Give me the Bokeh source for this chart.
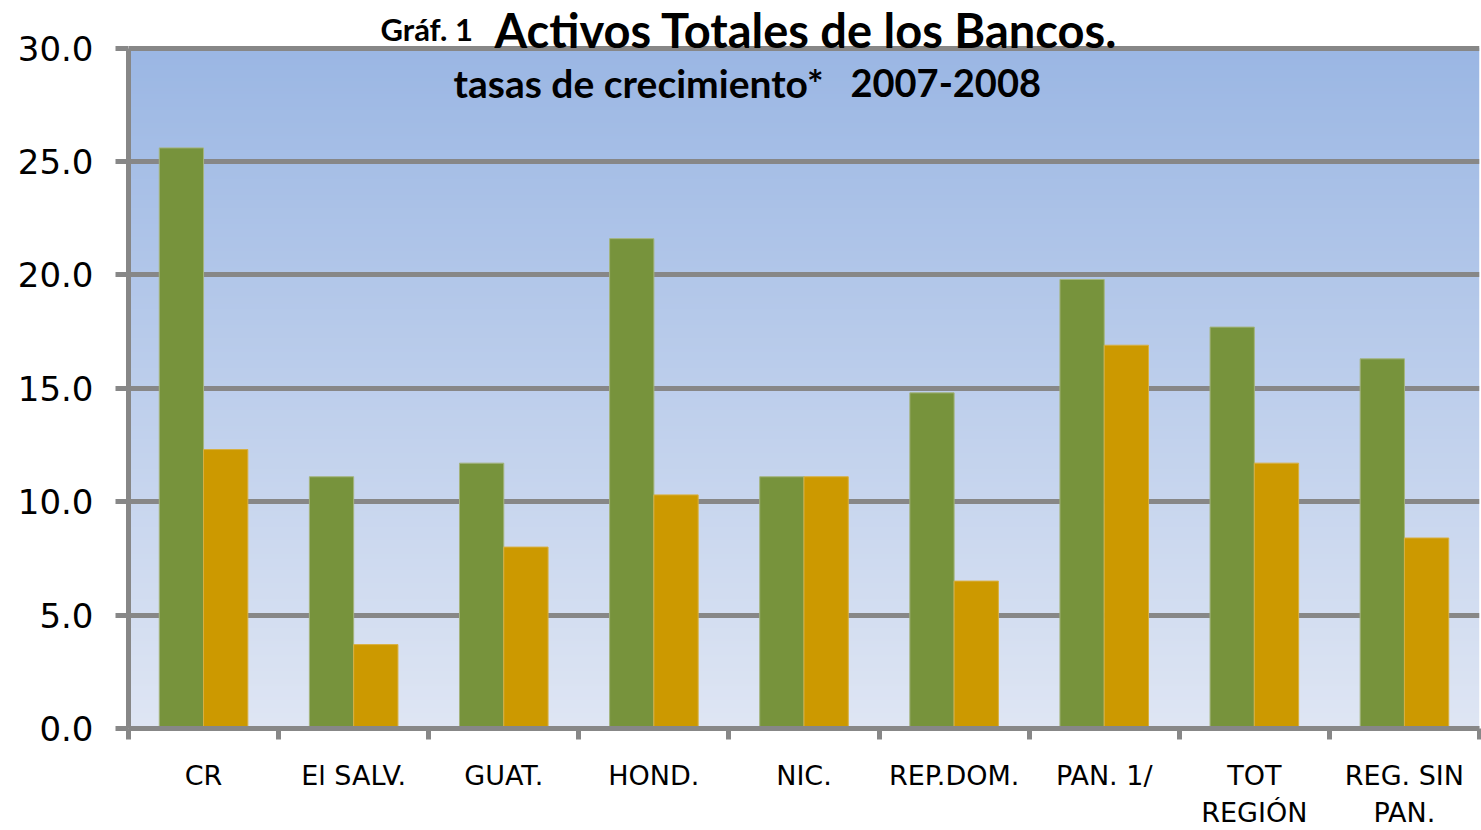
import numpy as np
from bokeh.plotting import figure
from bokeh.models import (Range1d, LinearAxis, FixedTicker,
                          PrintfTickFormatter, Label, ColumnDataSource)
from bokeh.transform import dodge
from bokeh.embed import file_html
from bokeh.resources import INLINE

# ---- data ----
categories = ["CR", "El SALV.", "GUAT.", "HOND.", "NIC.", "REP.DOM.", "PAN. 1/", "TOT\nREGIÓN", "REG. SIN\nPAN."]
growth_2007 = [25.6, 11.1, 11.7, 21.6, 11.1, 14.8, 19.8, 17.7, 16.3]
growth_2008 = [12.3, 3.7, 8.0, 10.3, 11.1, 6.5, 16.9, 11.7, 8.4]
y_ticks = [0, 5, 10, 15, 20, 25, 30]

GRAY = "#878787"
GREEN = "#77933C"
GOLD = "#CC9900"

ncat = len(categories)
centers = [i + 0.5 for i in range(ncat)]
src = ColumnDataSource(dict(pos=centers, g7=growth_2007, g8=growth_2008))

# y range extends above 30 so that the title area (white) lies inside the frame
p = figure(width=1481, height=830, output_backend="svg", toolbar_location=None,
           x_range=Range1d(0, ncat), y_range=Range1d(0, 32.1), x_axis_location=None,
           min_border_left=128, min_border_right=2, min_border_top=0, min_border_bottom=100)
p.outline_line_color = None
p.background_fill_color = "white"
p.border_fill_color = "white"

# gradient background of plot area
n = 256
top = np.array([0x9B, 0xB7, 0xE4], dtype=float)
bot = np.array([0xDF, 0xE6, 0xF4], dtype=float)
t = np.linspace(0, 1, n)[:, None]
rgb = bot * (1 - t) + top * t
img = np.zeros((n, 1), dtype=np.uint32)
view = img.view(dtype=np.uint8).reshape((n, 1, 4))
view[:, 0, 0:3] = rgb.astype(np.uint8)
view[:, 0, 3] = 255
p.image_rgba(image=[img], x=0, y=0, dw=ncat, dh=30, level="image")

# bars
bw = 0.295
p.vbar(x=dodge("pos", -bw / 2), top="g7", width=bw, source=src,
       fill_color=GREEN, line_color="#A4B47E", line_width=1)
p.vbar(x=dodge("pos", bw / 2), top="g8", width=bw, source=src,
       fill_color=GOLD, line_color="#D8B040", line_width=1)

# y axis
ya = p.yaxis[0]
ya.ticker = FixedTicker(ticks=y_ticks)
ya.bounds = (0, 30)
ya.formatter = PrintfTickFormatter(format="%.1f")
ya.axis_line_color = GRAY
ya.axis_line_width = 5
ya.major_tick_line_color = GRAY
ya.major_tick_line_width = 5
ya.major_tick_out = 13
ya.major_tick_in = 0
ya.minor_tick_line_color = None
ya.major_label_text_font = "DejaVu Sans"
ya.major_label_text_font_size = "34px"
ya.major_label_text_color = "black"
ya.major_label_standoff = 22

p.ygrid.grid_line_color = GRAY
p.ygrid.grid_line_width = 5
p.xgrid.grid_line_color = None

# x axis: boundary ticks
xa = LinearAxis(ticker=FixedTicker(ticks=list(range(ncat + 1))))
xa.axis_line_color = GRAY
xa.axis_line_width = 5
xa.major_tick_line_color = GRAY
xa.major_tick_line_width = 5
xa.major_tick_out = 11
xa.major_tick_in = 0
xa.minor_tick_line_color = None
xa.major_label_text_font_size = "1px"
xa.major_label_text_alpha = 0
xa.major_label_standoff = 0
p.add_layout(xa, "below")

# x axis: category labels
xb = LinearAxis(ticker=FixedTicker(ticks=centers))
xb.axis_line_color = None
xb.major_tick_line_color = None
xb.minor_tick_line_color = None
xb.major_label_text_font = "DejaVu Sans"
xb.major_label_text_font_size = "27px"
xb.major_label_text_color = "black"
xb.major_label_standoff = 14
xb.major_label_overrides = {c: lab for c, lab in zip(centers, categories)}
p.add_layout(xb, "below")

# titles
def title_label(x, y, text, size):
    return Label(x=x, y=y, x_units="screen", y_units="screen", text=text,
                 text_font="Lato", text_font_style="bold", text_font_size=size,
                 text_color="black", text_baseline="alphabetic")

base = 746
p.add_layout(title_label(252, base - 46, "Gráf. 1", "31px"))
p.add_layout(title_label(366, base - 47, "Activos Totales de los Bancos.", "47px"))
p.add_layout(title_label(325, base - 100, "tasas de crecimiento*", "39px"))
p.add_layout(title_label(722, base - 100, "2007-2008", "38px"))

open("out.html", "w").write(file_html(p, INLINE))
